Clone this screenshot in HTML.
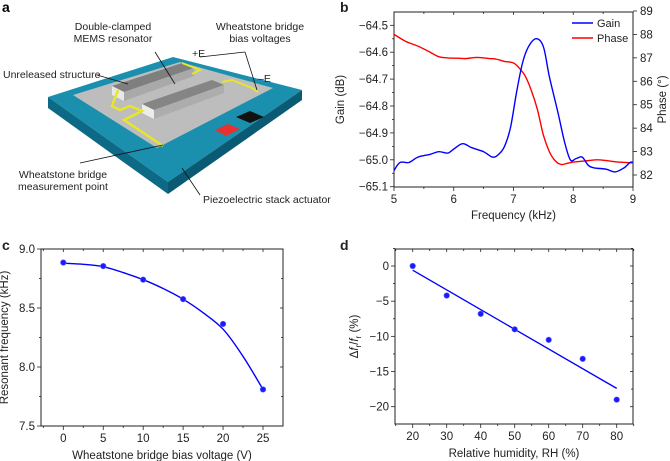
<!DOCTYPE html>
<html><head><meta charset="utf-8"><style>
html,body{margin:0;padding:0;background:#fff;width:670px;height:461px;overflow:hidden}
svg{display:block;font-family:"Liberation Sans",Arial,sans-serif}
</style></head><body>
<svg id="fig" width="670" height="461" viewBox="0 0 670 461">
<g>
<text x="2" y="12" font-size="14" font-weight="bold">a</text>
<polygon points="48,97 173,57 302,90 168,182" fill="#1b8fae"/>
<polygon points="48,97 168,182 168,194 48,108" fill="#0d6a86"/>
<polygon points="168,182 302,90 302,100 168,194" fill="#0a5a73"/>
<polygon points="73,95 180,62 273,88 157,148" fill="#bdbdbd"/>
<polygon points="112,86 182,63 194,68 124,92" fill="#7f7f7f"/>
<polygon points="124,92 194,68 194,76 124,101" fill="#a9a9a9"/>
<polygon points="112,86 124,92 124,101 112,95" fill="#e8e8e8"/>
<polygon points="142,104 212,80 224,85 154,110" fill="#858585"/>
<polygon points="154,110 224,85 224,93 154,119" fill="#adadad"/>
<polygon points="142,104 154,110 154,119 142,113" fill="#ececec"/>
<polyline points="118,90 112,106 120,110 130,106 142,111 124,120 163,146" fill="none" stroke="#e6e62a" stroke-width="2.5"/>
<polyline points="182,63 200,70 192,74" fill="none" stroke="#e6e62a" stroke-width="2"/>
<polyline points="222,82 232,80 252,88 258,92" fill="none" stroke="#e6e62a" stroke-width="2"/>
<polygon points="215,130 228,124 240,129 226,136" fill="#e83030"/>
<polygon points="236,117 250,111 264,117 250,123" fill="#111"/>
<g font-size="10.5" fill="#222">
<text x="113" y="30" text-anchor="middle">Double-clamped</text>
<text x="113" y="42" text-anchor="middle">MEMS resonator</text>
<text x="260" y="30" text-anchor="middle">Wheatstone bridge</text>
<text x="260" y="42" text-anchor="middle">bias voltages</text>
<text x="192" y="57">+E</text>
<text x="258" y="82">–E</text>
<text x="3" y="78">Unreleased structure</text>
<text x="63" y="178" text-anchor="middle">Wheatstone bridge</text>
<text x="63" y="190" text-anchor="middle">measurement point</text>
<text x="203" y="203">Piezoelectric stack actuator</text>
</g>
<g stroke="#111" stroke-width="0.8" fill="none">
<line x1="155" y1="52" x2="175" y2="84"/><line x1="97" y1="75" x2="128" y2="84"/>
<line x1="200" y1="57" x2="245" y2="52"/><line x1="245" y1="52" x2="257" y2="90"/>
<line x1="80" y1="163" x2="163" y2="145"/><line x1="200" y1="195" x2="182" y2="168"/>
</g>
</g>
<g id="charts"></g>
</svg>
<script>
// Panel b data
const bFreq = [5.0,5.1,5.25,5.4,5.6,5.75,5.9,6.0,6.15,6.3,6.5,6.65,6.75,6.85,6.95,7.05,7.15,7.25,7.38,7.5,7.6,7.75,7.85,7.95,8.05,8.15,8.25,8.35,8.55,8.7,8.85,8.95,9.0];
const bGain = [-65.04,-65.01,-65.01,-64.99,-64.98,-64.97,-64.975,-64.96,-64.94,-64.955,-64.97,-64.99,-64.98,-64.95,-64.88,-64.75,-64.64,-64.58,-64.55,-64.58,-64.69,-64.83,-64.93,-65.0,-64.995,-64.99,-65.02,-65.03,-65.035,-65.045,-65.03,-65.01,-65.01];
const bPhaseFreq = [5.0,5.2,5.4,5.6,5.75,5.9,6.1,6.2,6.4,6.6,6.7,6.85,7.0,7.1,7.2,7.3,7.4,7.5,7.6,7.7,7.8,7.9,8.0,8.2,8.4,8.6,8.75,9.0];
const bPhase = [88.0,87.7,87.5,87.25,87.05,87.0,86.98,86.97,87.02,86.97,86.95,86.85,86.78,86.55,86.2,85.6,84.8,83.7,83.0,82.6,82.45,82.5,82.55,82.6,82.65,82.6,82.55,82.52];
const bXTicks = [5,6,7,8,9];
const bGainTicks = [-64.5,-64.6,-64.7,-64.8,-64.9,-65.0,-65.1];
const bPhaseTicks = [82,83,84,85,86,87,88,89];
// Panel c data
const cVolt = [0,5,10,15,20,25];
const cFreq = [8.885,8.855,8.74,8.575,8.365,7.81];
const cFitVolt = [0,2.5,5,7.5,10,12.5,15,17.5,20,22.5,25];
const cFitFreq = [8.88,8.87,8.85,8.80,8.74,8.665,8.575,8.46,8.32,8.09,7.81];
const cXTicks = [0,5,10,15,20,25];
const cYTicks = [7.5,8.0,8.5,9.0];
// Panel d data
const dRH = [20,30,40,50,60,70,80];
const dShift = [0,-4.2,-6.8,-9.0,-10.5,-13.2,-19.0];
const dFitRH = [20,80];
const dFitShift = [-0.6,-17.4];
const dXTicks = [20,30,40,50,60,70,80];
const dYTicks = [0,-5,-10,-15,-20];

const NS='http://www.w3.org/2000/svg';
const root=document.getElementById('charts');
function mk(tag,attrs,parent){const e=document.createElementNS(NS,tag);for(const k in attrs)e.setAttribute(k,attrs[k]);(parent||root).appendChild(e);return e;}
function lin(d0,d1,r0,r1){return v=>r0+(v-d0)*(r1-r0)/(d1-d0);}
function txt(x,y,s,size,anchor,parent){const t=mk('text',{x:x,y:y,'font-size':size,'text-anchor':anchor||'middle',fill:'#222'},parent);t.textContent=s;return t;}
function smoothD(xs,ys,X,Y){
 const p=xs.map((v,i)=>[X(v),Y(ys[i])]);
 let d='M'+p[0][0].toFixed(1)+','+p[0][1].toFixed(1);
 for(let i=0;i<p.length-1;i++){
  const p0=p[i-1]||p[i],p1=p[i],p2=p[i+1],p3=p[i+2]||p2;
  const c1=[p1[0]+(p2[0]-p0[0])/6,p1[1]+(p2[1]-p0[1])/6];
  const c2=[p2[0]-(p3[0]-p1[0])/6,p2[1]-(p3[1]-p1[1])/6];
  d+=' C'+c1[0].toFixed(1)+','+c1[1].toFixed(1)+' '+c2[0].toFixed(1)+','+c2[1].toFixed(1)+' '+p2[0].toFixed(1)+','+p2[1].toFixed(1);
 }
 return d;}
function fmt(v,dec){return (v<0?'\u2212':'')+Math.abs(v).toFixed(dec);}
function box(g,l,t,r,b){mk('rect',{x:l,y:t,width:r-l,height:b-t,fill:'none',stroke:'#222','stroke-width':1},g);}
function tick(g,x1,y1,x2,y2){mk('line',{x1:x1,y1:y1,x2:x2,y2:y2,stroke:'#222','stroke-width':0.8},g);}

// ---- Panel b ----
(function(){
const g=mk('g',{});


const L=394,R=633,T=12,B=187;
const X=lin(5,9,L,R), Yg=lin(-64.5,-65.1,25.3,186.7), Yp=lin(89,82,11,175);
txt(340,12,'b',14,'start',g).setAttribute('font-weight','bold');
box(g,L,T,R,B);
bXTicks.forEach(v=>{tick(g,X(v),B,X(v),B+4);tick(g,X(v),T,X(v),T+3);
 const t=txt(X(v),B+16,String(v),11.5,'middle',g);});
for(let v=5.5;v<9;v+=1){tick(g,X(v),B,X(v),B+2);tick(g,X(v),T,X(v),T+2);}
bGainTicks.forEach(v=>{tick(g,L-4,Yg(v),L,Yg(v));
 const t=txt(L-6,Yg(v)+4,fmt(v,1),11.5,'end',g);});
for(let v=-64.55;v>-65.1;v-=0.1){tick(g,L-2,Yg(v),L,Yg(v));}
bPhaseTicks.forEach(v=>{tick(g,R,Yp(v),R+4,Yp(v));
 const t=txt(R+7,Yp(v)+4,String(v),11.5,'start',g);});
const xl=txt((L+R)/2,B+32,'Frequency (kHz)',11.5,'middle',g);

const yl=txt(0,0,'Gain (dB)',11.5,'middle',g);yl.setAttribute('transform','translate(344,'+(T+B)/2+') rotate(-90)');

const pl=txt(0,0,'Phase (°)',11.5,'middle',g);pl.setAttribute('transform','translate(666,'+(T+B)/2+') rotate(-90)');

const ph=mk('path',{d:smoothD(bPhaseFreq,bPhase,X,Yp),fill:'none',stroke:'#f00','stroke-width':1.4},g);

const ga=mk('path',{d:smoothD(bFreq,bGain,X,Yg),fill:'none',stroke:'#00f','stroke-width':1.4},g);

const lg=mk('g',{},g);
mk('line',{x1:572,y1:23,x2:593,y2:23,stroke:'#00f','stroke-width':1.4},lg);txt(597,27,'Gain',11,'start',lg);
mk('line',{x1:572,y1:38,x2:593,y2:38,stroke:'#f00','stroke-width':1.4},lg);txt(597,42,'Phase',11,'start',lg);
})();

// ---- Panel c ----
(function(){
const g=mk('g',{});


const L=41,R=283,T=249,B=426;
const X=lin(0,25,63.3,263), Y=lin(9,7.5,249,426);
txt(2,250,'c',14,'start',g).setAttribute('font-weight','bold');
box(g,L,T,R,B);
cXTicks.forEach(v=>{tick(g,X(v),B,X(v),B+4);tick(g,X(v),T,X(v),T+3);
 const t=txt(X(v),B+16,String(v),11.5,'middle',g);});
for(let v=-2.5;v<27.5;v+=5){tick(g,X(v),B,X(v),B+2);tick(g,X(v),T,X(v),T+2);}
cYTicks.forEach(v=>{tick(g,L-4,Y(v),L,Y(v));tick(g,R-3,Y(v),R,Y(v));
 const t=txt(L-6,Y(v)+4,v.toFixed(1),11.5,'end',g);});
for(let v=7.75;v<9;v+=0.5){tick(g,L-2,Y(v),L,Y(v));tick(g,R-2,Y(v),R,Y(v));}
const xl=txt((L+R)/2,B+33,'Wheatstone bridge bias voltage (V)',11.5,'middle',g);

const yl=txt(0,0,'Resonant frequency (kHz)',11.5,'middle',g);yl.setAttribute('transform','translate(8,'+(T+B)/2+') rotate(-90)');

const f=mk('path',{d:smoothD(cFitVolt,cFitFreq,X,Y),fill:'none',stroke:'#00f','stroke-width':1.4},g);

cVolt.forEach((v,i)=>{const c=mk('circle',{cx:X(v),cy:Y(cFreq[i]),r:2.8,fill:'#1a1aff',stroke:'#66f','stroke-width':0.6},g);
 });
})();

// ---- Panel d ----
(function(){
const g=mk('g',{});


const L=395,R=633,T=249,B=424;
const X=lin(20,80,412.7,616.7), Y=lin(0,-20,266,406.7);
txt(340,250,'d',14,'start',g).setAttribute('font-weight','bold');
box(g,L,T,R,B);
dXTicks.forEach(v=>{tick(g,X(v),B,X(v),B+4);tick(g,X(v),T,X(v),T+3);
 const t=txt(X(v),B+16,String(v),11.5,'middle',g);});
for(let v=15;v<=85;v+=10){tick(g,X(v),B,X(v),B+2);tick(g,X(v),T,X(v),T+2);}
dYTicks.forEach(v=>{tick(g,L-4,Y(v),L,Y(v));tick(g,R-3,Y(v),R,Y(v));
 const t=txt(L-6,Y(v)+4,fmt(v,0),11.5,'end',g);});
for(let v=2.5;v>-22.5;v-=5){tick(g,L-2,Y(v),L,Y(v));tick(g,R-2,Y(v),R,Y(v));}
const xl=txt((L+R)/2,B+33,'Relative humidity, RH (%)',11.5,'middle',g);

const yl=mk('text',{'font-size':11.5,'text-anchor':'middle',fill:'#222',transform:'translate(358,'+(T+B)/2+') rotate(-90)'},g);
yl.innerHTML='Δ<tspan font-style="italic">f</tspan><tspan font-size="8" dy="3">r</tspan><tspan dy="-3">/</tspan><tspan font-style="italic">f</tspan><tspan font-size="8" dy="3">r</tspan><tspan dy="-3"> (%)</tspan>';

const f=mk('path',{d:smoothD(dFitRH,dFitShift,X,Y),fill:'none',stroke:'#00f','stroke-width':1.4},g);

dRH.forEach((v,i)=>{const c=mk('circle',{cx:X(v),cy:Y(dShift[i]),r:2.8,fill:'#1a1aff',stroke:'#66f','stroke-width':0.6},g);
 });
})();
</script>
</body></html>
